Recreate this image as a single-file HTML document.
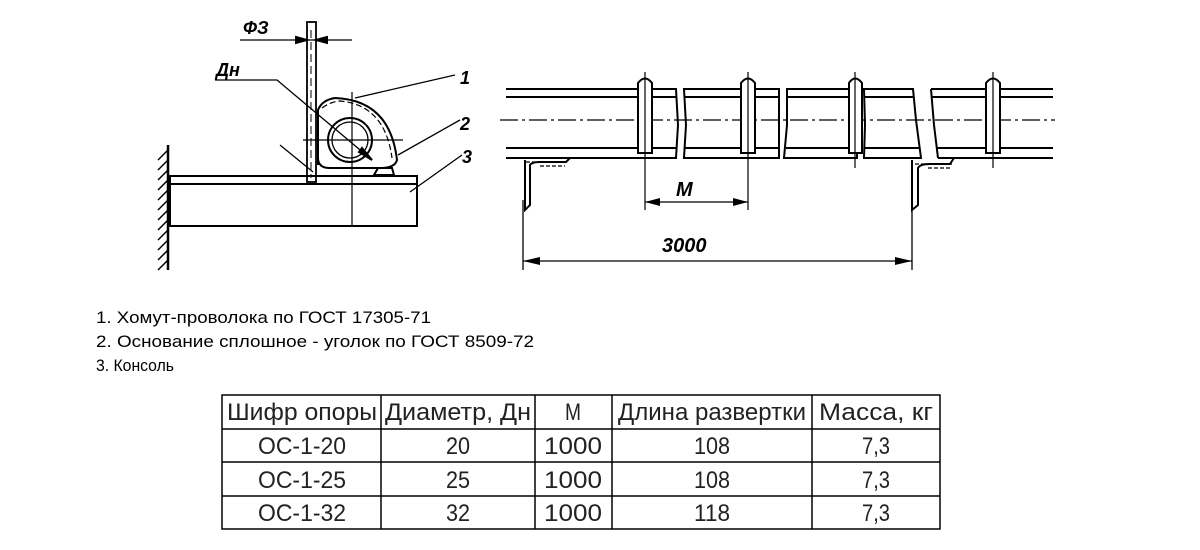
<!DOCTYPE html>
<html><head><meta charset="utf-8"><style>
html,body{margin:0;padding:0;background:#fff;}
svg{display:block}
</style></head><body>
<svg width="1200" height="550" viewBox="0 0 1200 550" xmlns="http://www.w3.org/2000/svg" font-family="Liberation Sans, sans-serif">
<g stroke="#000" fill="none" stroke-width="2">
<line x1="168" y1="145" x2="168" y2="270" stroke-width="2.5"/>
<g stroke-width="1.5">
<line x1="168" y1="150" x2="158" y2="160"/><line x1="168" y1="160" x2="158" y2="170"/><line x1="168" y1="170" x2="158" y2="180"/><line x1="168" y1="180" x2="158" y2="190"/><line x1="168" y1="190" x2="158" y2="200"/><line x1="168" y1="200" x2="158" y2="210"/><line x1="168" y1="210" x2="158" y2="220"/><line x1="168" y1="220" x2="158" y2="230"/><line x1="168" y1="230" x2="158" y2="240"/><line x1="168" y1="240" x2="158" y2="250"/><line x1="168" y1="250" x2="158" y2="260"/><line x1="168" y1="260" x2="158" y2="270"/>
</g>
<rect x="170" y="176" width="247" height="8"/>
<rect x="170" y="184" width="247" height="42"/>
<line x1="352" y1="92" x2="352" y2="226" stroke-width="1.2"/>
<line x1="303" y1="140" x2="403" y2="140" stroke-width="1.2"/>
<rect x="307" y="22" width="9" height="160" stroke-width="1.8"/>
<line x1="311" y1="30" x2="311" y2="178" stroke-width="1" stroke-dasharray="8 4"/>
<line x1="240" y1="40" x2="352" y2="40" stroke-width="1.3"/>
<path d="M296 37 L307 40 L296 43Z M327 37 L316 40 L327 43Z" fill="#000"/>
<circle cx="350" cy="140" r="22"/>
<circle cx="350" cy="140" r="18" stroke-width="1.3"/>
<path d="M318 165 L318 110 Q322 100 335 98 Q390 100 397 160 Q395 168 380 168 L330 168 Q318 168 318 158" />
<path d="M322 108 Q330 102 340 101 Q385 105 392 158" stroke-width="1.2" stroke-dasharray="6 3"/>
<path d="M374 175 L378 168 L392 168 L394 175Z"/>
<polyline points="215,80 277,80 372,160" stroke-width="1.3"/>
<path d="M362 148 L372 160 L359 152Z" fill="#000"/>
<line x1="280" y1="145" x2="313" y2="172" stroke-width="1.3"/>
<line x1="355" y1="98" x2="455" y2="75" stroke-width="1.3"/>
<line x1="398" y1="155" x2="460" y2="120" stroke-width="1.3"/>
<line x1="410" y1="192" x2="462" y2="155" stroke-width="1.3"/>
</g>
<g font-style="italic" font-weight="bold" font-size="18" fill="#000">
<text x="243" y="34">ФЗ</text>
<text x="216" y="76">Дн</text>
<text x="460" y="84">1</text>
<text x="460" y="130">2</text>
<text x="462" y="163">3</text>
</g>

<g stroke="#000" fill="none" stroke-width="2">
<path d="M506 89 H676 L678 125 L676 158 H506 M506 97 H676 M506 148 H676"/>
<path d="M684 89 H779 V158 H684 L686 125 Z M684 97 H779 M684 148 H779"/>
<path d="M787 89 H858 L857 158 H784 L787 125 Z M787 97 H858 M786 148 H857"/>
<path d="M864 89 H913 L916 120 L921 158 H864 L865 125 Z M864 97 H914 M864 148 H919"/>
<path d="M931 89 H1053 M931 97 H1053 M936 148 H1053 M938 158 H1053 M931 89 L934 125 L938 158"/>
<line x1="500" y1="120" x2="1055" y2="120" stroke-width="1.3" stroke-dasharray="18 4 3 4"/>
<g fill="#fff">
<path d="M638 153 V83 Q645 74 652 83 V153 Z"/>
<path d="M741 153 V83 Q748 74 755 83 V153 Z"/>
<path d="M849 153 V83 Q855 74 862 83 V153 Z"/>
<path d="M986 153 V83 Q993 74 1000 83 V153 Z"/>
</g>
<g stroke-width="1.2">
<line x1="645" y1="72" x2="645" y2="210"/>
<line x1="748" y1="72" x2="748" y2="210"/>
<line x1="855" y1="72" x2="855" y2="168"/>
<line x1="993" y1="72" x2="993" y2="168"/>
</g>
<path d="M525 160 V210 L530 205 V165 Q532 162 540 162 H566 L570 158"/>
<path d="M526 162 H568 M540 166 H565" stroke-width="1.2" stroke-dasharray="4 2"/>
<path d="M912 160 V210 L918 205 V168 Q920 164 930 164 H950 L954 158"/>
<path d="M915 164 H952 M928 168 H950" stroke-width="1.2" stroke-dasharray="4 2"/>
<line x1="645" y1="202" x2="748" y2="202" stroke-width="1.3"/>
<path d="M645 202 L660 198 L660 206Z M748 202 L733 198 L733 206Z" fill="#000" stroke="none"/>
<line x1="523" y1="200" x2="523" y2="270" stroke-width="1.3"/>
<line x1="912" y1="200" x2="912" y2="270" stroke-width="1.3"/>
<line x1="523" y1="261" x2="912" y2="261" stroke-width="1.3"/>
<path d="M523 261 L540 257 L540 265Z M912 261 L895 257 L895 265Z" fill="#000" stroke="none"/>
</g>
<g font-style="italic" font-weight="bold" font-size="20" fill="#000">
<text x="676" y="196">М</text>
<text x="662" y="252">3000</text>
</g>

<g font-size="17" fill="#000">
<text x="96" y="323" textLength="335" lengthAdjust="spacingAndGlyphs">1. Хомут-проволока по ГОСТ 17305-71</text>
<text x="96" y="347" textLength="438" lengthAdjust="spacingAndGlyphs">2. Основание сплошное - уголок по ГОСТ 8509-72</text>
<text x="96" y="371" textLength="78" lengthAdjust="spacingAndGlyphs">3. Консоль</text>
</g>

<g stroke="#000" stroke-width="1.5" fill="none">
<rect x="222" y="395" width="718" height="134"/>
<line x1="222" y1="429" x2="940" y2="429"/>
<line x1="222" y1="462" x2="940" y2="462"/>
<line x1="222" y1="496" x2="940" y2="496"/>
<line x1="381" y1="395" x2="381" y2="529"/>
<line x1="535" y1="395" x2="535" y2="529"/>
<line x1="612" y1="395" x2="612" y2="529"/>
<line x1="812" y1="395" x2="812" y2="529"/>
</g>
<g font-size="24" fill="#222" text-anchor="middle" lengthAdjust="spacingAndGlyphs">
<text x="302" y="420" textLength="150" lengthAdjust="spacingAndGlyphs">Шифр опоры</text>
<text x="458" y="420" textLength="146" lengthAdjust="spacingAndGlyphs">Диаметр, Дн</text>
<text x="573" y="420" textLength="16" lengthAdjust="spacingAndGlyphs">М</text>
<text x="712" y="420" textLength="188" lengthAdjust="spacingAndGlyphs">Длина развертки</text>
<text x="876" y="420" textLength="114" lengthAdjust="spacingAndGlyphs">Масса, кг</text>
<text x="302" y="454" textLength="88" lengthAdjust="spacingAndGlyphs">ОС-1-20</text><text x="458" y="454" textLength="24" lengthAdjust="spacingAndGlyphs">20</text><text x="573" y="454" textLength="58" lengthAdjust="spacingAndGlyphs">1000</text><text x="712" y="454" textLength="36" lengthAdjust="spacingAndGlyphs">108</text><text x="876" y="454" textLength="28" lengthAdjust="spacingAndGlyphs">7,3</text>
<text x="302" y="488" textLength="88" lengthAdjust="spacingAndGlyphs">ОС-1-25</text><text x="458" y="488" textLength="24" lengthAdjust="spacingAndGlyphs">25</text><text x="573" y="488" textLength="58" lengthAdjust="spacingAndGlyphs">1000</text><text x="712" y="488" textLength="36" lengthAdjust="spacingAndGlyphs">108</text><text x="876" y="488" textLength="28" lengthAdjust="spacingAndGlyphs">7,3</text>
<text x="302" y="521" textLength="88" lengthAdjust="spacingAndGlyphs">ОС-1-32</text><text x="458" y="521" textLength="24" lengthAdjust="spacingAndGlyphs">32</text><text x="573" y="521" textLength="58" lengthAdjust="spacingAndGlyphs">1000</text><text x="712" y="521" textLength="36" lengthAdjust="spacingAndGlyphs">118</text><text x="876" y="521" textLength="28" lengthAdjust="spacingAndGlyphs">7,3</text>
</g>
</svg>
</body></html>
